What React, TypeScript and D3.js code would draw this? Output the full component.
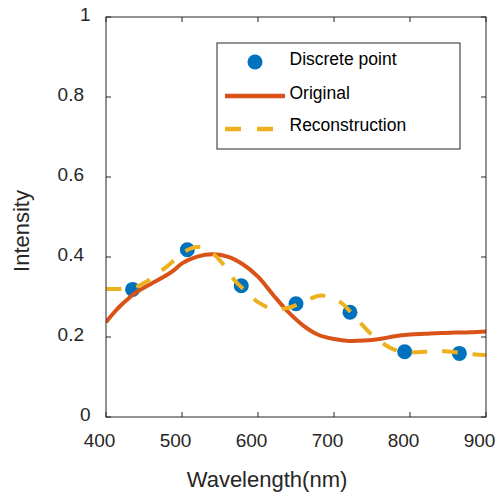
import React from "react";
import * as d3 from "d3";

const discreteX = [435, 507, 578, 650, 721, 793, 865];
const discreteY = [0.319, 0.418, 0.328, 0.283, 0.262, 0.163, 0.159];

const originalX = [400, 410, 420, 430, 440, 460, 480, 490, 500, 520, 540, 560, 580, 600, 620, 640, 660, 680, 700, 720, 740, 760, 780, 800, 820, 840, 860, 880, 900];
const originalY = [0.237, 0.26, 0.28, 0.297, 0.312, 0.334, 0.355, 0.368, 0.384, 0.401, 0.407, 0.401, 0.382, 0.351, 0.305, 0.262, 0.228, 0.205, 0.195, 0.19, 0.191, 0.195, 0.202, 0.206, 0.208, 0.21, 0.211, 0.212, 0.214];

const reconX = [400, 420, 435, 450, 465, 480, 495, 510, 525, 540, 555, 570, 585, 600, 620, 640, 660, 680, 695, 710, 722, 735, 750, 765, 780, 800, 820, 840, 865, 883, 900];
const reconY = [0.32, 0.32, 0.322, 0.335, 0.355, 0.376, 0.4, 0.42, 0.425, 0.41, 0.38, 0.34, 0.313, 0.287, 0.27, 0.273, 0.288, 0.303, 0.3, 0.285, 0.262, 0.235, 0.205, 0.183, 0.168, 0.162, 0.163, 0.165, 0.161, 0.157, 0.155];

const xTicks = [400, 500, 600, 700, 800, 900];
const yTicks = [0, 0.2, 0.4, 0.6, 0.8, 1];
const yTickLabels = ["0", "0.2", "0.4", "0.6", "0.8", "1"];
const legendLabels = ["Discrete point", "Original", "Reconstruction"];

const BLUE = "#0072BD";
const ORANGE = "#D95319";
const YELLOW = "#EDB120";
const AXIS = "#262626";
const FONT = "'Liberation Sans', Arial, Helvetica, sans-serif";

export default function App() {
  const W = 497, H = 500;
  const left = 106, right = 486, top = 17, bottom = 417;
  const x = d3.scaleLinear().domain([400, 900]).range([left, right]);
  const y = d3.scaleLinear().domain([0, 1]).range([bottom, top]);

  const orig = originalX.map((v, i) => [v, originalY[i]] as [number, number]);
  const recon = reconX.map((v, i) => [v, reconY[i]] as [number, number]);

  const line = d3
    .line<[number, number]>()
    .x((d) => x(d[0]))
    .y((d) => y(d[1]))
    .curve(d3.curveCatmullRom.alpha(0.5));

  const tickLen = 5;
  const legX = 217, legY = 43, legW = 243, legH = 106;
  const rowY = [62, 96, 129];
  const textBase = [65.3, 98.5, 130.5];

  return (
    <svg
      width={W}
      height={H}
      style={{ position: "absolute", left: 0, top: 0, background: "#fff" }}
      fontFamily={FONT}
    >
      <rect x={0} y={0} width={W} height={H} fill="#fff" />
      <defs>
        <clipPath id="plotclip">
          <rect x={left} y={top} width={right - left} height={bottom - top} />
        </clipPath>
      </defs>

      {/* data */}
      <g clipPath="url(#plotclip)">
        {discreteX.map((v, i) => (
          <circle key={i} cx={x(v)} cy={y(discreteY[i])} r={7.5} fill={BLUE} />
        ))}
        <path d={line(orig) || ""} fill="none" stroke={ORANGE} strokeWidth={4} />
        <path
          d={line(recon) || ""}
          fill="none"
          stroke={YELLOW}
          strokeWidth={4}
          strokeDasharray="15.5 15"
        />
      </g>

      {/* axes box */}
      <rect
        x={left}
        y={top}
        width={right - left}
        height={bottom - top}
        fill="none"
        stroke={AXIS}
        strokeWidth={1}
      />
      {xTicks.map((t) => (
        <g key={"xt" + t}>
          <line x1={x(t)} x2={x(t)} y1={bottom} y2={bottom - tickLen} stroke={AXIS} strokeWidth={1} />
          <line x1={x(t)} x2={x(t)} y1={top} y2={top + tickLen} stroke={AXIS} strokeWidth={1} />
          <text
            x={x(t) - 6.5}
            y={447}
            textAnchor="middle"
            fontSize={19}
            fill={AXIS}
          >
            {t}
          </text>
        </g>
      ))}
      {yTicks.map((t, i) => (
        <g key={"yt" + t}>
          <line x1={left} x2={left + tickLen} y1={y(t)} y2={y(t)} stroke={AXIS} strokeWidth={1} />
          <line x1={right} x2={right - tickLen} y1={y(t)} y2={y(t)} stroke={AXIS} strokeWidth={1} />
          <text
            x={yTickLabels[i].length === 1 ? 90.5 : 84}
            y={y(t) + 3.8}
            textAnchor="end"
            fontSize={19}
            fill={AXIS}
          >
            {yTickLabels[i]}
          </text>
        </g>
      ))}

      {/* axis labels */}
      <text x={267} y={487} textAnchor="middle" fontSize={22} fill={AXIS}>
        Wavelength(nm)
      </text>
      <text
        transform={`translate(29,231) rotate(-90)`}
        textAnchor="middle"
        fontSize={22}
        fill={AXIS}
      >
        Intensity
      </text>

      {/* legend */}
      <rect x={legX} y={legY} width={legW} height={legH} fill="#fff" stroke={AXIS} strokeWidth={1} />
      <circle cx={255} cy={rowY[0]} r={7.5} fill={BLUE} />
      <line x1={225} x2={285} y1={rowY[1]} y2={rowY[1]} stroke={ORANGE} strokeWidth={4.5} />
      <line
        x1={225}
        x2={285}
        y1={rowY[2]}
        y2={rowY[2]}
        stroke={YELLOW}
        strokeWidth={4.5}
        strokeDasharray="16 16"
      />
      {legendLabels.map((l, i) => (
        <text key={l} x={289.5} y={textBase[i]} fontSize={17.5} fill="#000">
          {l}
        </text>
      ))}
    </svg>
  );
}
